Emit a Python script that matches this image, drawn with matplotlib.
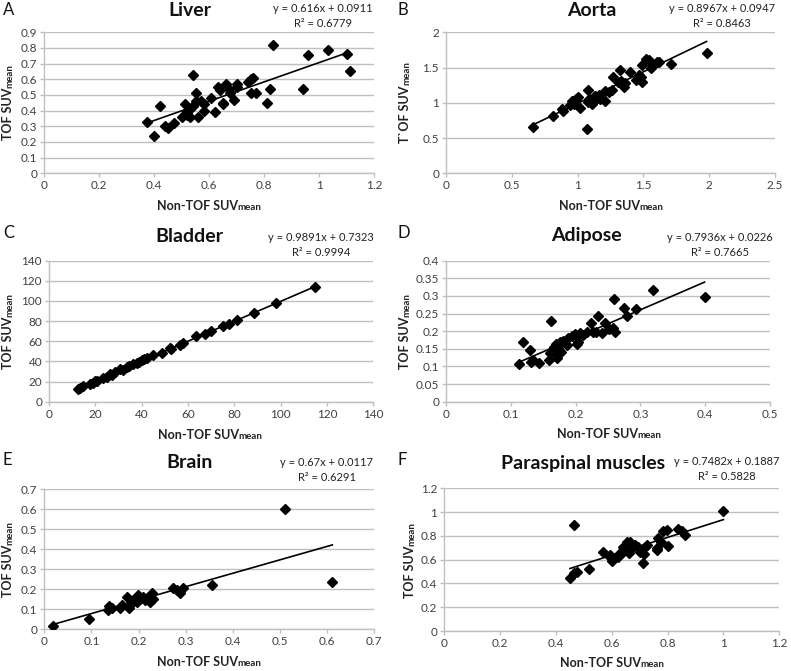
import numpy as np
import matplotlib
matplotlib.use("Agg")
import matplotlib.pyplot as plt

plt.rcParams['font.family'] = ['Lato', 'DejaVu Sans']

# ---------------- data ----------------
liver_x = [0.375, 0.40, 0.42, 0.44, 0.45, 0.47, 0.50, 0.51, 0.52, 0.52, 0.53, 0.54, 0.54, 0.55,
           0.55, 0.56, 0.57, 0.58, 0.58, 0.605, 0.62, 0.63, 0.64, 0.65, 0.66, 0.67, 0.675, 0.69,
           0.70, 0.70, 0.74, 0.75, 0.76, 0.75, 0.77, 0.81, 0.82, 0.83, 0.94, 0.96, 1.03, 1.10, 1.11,
           0.53, 0.52, 0.65]
liver_y = [0.33, 0.24, 0.43, 0.30, 0.29, 0.32, 0.36, 0.44, 0.40, 0.38, 0.36, 0.63, 0.43, 0.51,
           0.46, 0.36, 0.46, 0.44, 0.40, 0.48, 0.39, 0.55, 0.53, 0.45, 0.57, 0.54, 0.51, 0.47,
           0.57, 0.55, 0.585, 0.60, 0.61, 0.51, 0.51, 0.45, 0.535, 0.82, 0.54, 0.755, 0.79, 0.76, 0.655,
           0.41, 0.37, 0.44]

aorta_x = [0.66, 0.81, 0.88, 0.89, 0.94, 0.955, 0.98, 0.99, 1.02, 1.07, 1.08, 1.08, 1.09, 1.11,
           1.13, 1.14, 1.16, 1.17, 1.21, 1.21, 1.24, 1.26, 1.27, 1.31, 1.32, 1.33, 1.35, 1.36, 1.40,
           1.44, 1.48, 1.49, 1.49, 1.52, 1.54, 1.56, 1.57, 1.60, 1.62, 1.71, 1.98, 1.47, 1.10, 1.13,
           0.97, 1.00]
aorta_y = [0.65, 0.81, 0.91, 0.89, 0.97, 1.02, 1.04, 1.06, 0.92, 0.63, 1.18, 1.01, 1.06, 0.99,
           1.09, 1.05, 1.11, 1.06, 1.02, 1.17, 1.16, 1.18, 1.36, 1.29, 1.47, 1.31, 1.22, 1.28, 1.43,
           1.32, 1.37, 1.29, 1.54, 1.62, 1.61, 1.49, 1.53, 1.58, 1.58, 1.55, 1.71, 1.40, 1.04, 1.10,
           0.98, 1.08]

bladder_x = [12.4, 13.4, 14.5, 17.7, 19.0, 19.9, 20.6, 23.5, 24.9, 26.3, 27.0, 28.5, 30.6, 32.0,
             33.5, 34.7, 36.1, 37.8, 39.0, 40.0, 41.0, 42.4, 45.0, 48.6, 52.2, 52.7, 56.5, 57.7,
             63.3, 67.3, 69.8, 75.0, 77.8, 81.0, 88.5, 97.8, 114.8]
bladder_y = [13.0, 14.0, 16.0, 18.0, 19.0, 21.0, 21.0, 24.0, 25.0, 28.0, 27.0, 29.0, 32.0, 31.0,
             34.0, 35.0, 37.0, 38.0, 39.0, 41.0, 42.0, 43.0, 46.4, 48.7, 53.0, 52.0, 56.3, 58.0,
             64.9, 66.9, 70.2, 75.5, 76.8, 81.0, 87.7, 98.3, 114.0]

adipose_x = [0.113, 0.119, 0.130, 0.131, 0.134, 0.143, 0.159, 0.162, 0.160, 0.163, 0.166, 0.167,
             0.170, 0.171, 0.173, 0.176, 0.178, 0.181, 0.186, 0.189, 0.194, 0.199, 0.202, 0.204,
             0.207, 0.212, 0.217, 0.224, 0.227, 0.232, 0.235, 0.241, 0.245, 0.252, 0.258, 0.261,
             0.260, 0.274, 0.280, 0.293, 0.319, 0.399]
adipose_y = [0.107, 0.168, 0.148, 0.113, 0.118, 0.111, 0.118, 0.230, 0.137, 0.147, 0.156, 0.142,
             0.165, 0.123, 0.151, 0.170, 0.142, 0.172, 0.161, 0.180, 0.186, 0.191, 0.165, 0.168,
             0.194, 0.189, 0.199, 0.222, 0.199, 0.199, 0.243, 0.194, 0.224, 0.205, 0.208, 0.197,
             0.291, 0.267, 0.244, 0.263, 0.318, 0.298]

brain_x = [0.019, 0.095, 0.136, 0.137, 0.143, 0.161, 0.164, 0.175, 0.180, 0.185, 0.189, 0.196,
           0.198, 0.203, 0.209, 0.214, 0.217, 0.224, 0.228, 0.230, 0.274, 0.281, 0.288, 0.295,
           0.355, 0.511, 0.611]
brain_y = [0.017, 0.050, 0.097, 0.118, 0.105, 0.108, 0.121, 0.163, 0.105, 0.130, 0.146, 0.138,
           0.171, 0.151, 0.163, 0.146, 0.158, 0.138, 0.180, 0.151, 0.208, 0.196, 0.180, 0.208,
           0.221, 0.600, 0.238]

para_x = [0.450, 0.465, 0.476, 0.465, 0.52, 0.57, 0.593, 0.60, 0.605, 0.623, 0.629, 0.639, 0.641,
          0.647, 0.655, 0.663, 0.665, 0.671, 0.683, 0.695, 0.70, 0.71, 0.715, 0.727, 0.761, 0.763,
          0.767, 0.775, 0.784, 0.796, 0.802, 0.838, 0.85, 0.862, 1.0, 0.595, 0.66, 0.72]
para_y = [0.443, 0.49, 0.50, 0.89, 0.525, 0.665, 0.625, 0.59, 0.61, 0.625, 0.653, 0.709, 0.667,
          0.68, 0.745, 0.653, 0.75, 0.695, 0.723, 0.704, 0.667, 0.575, 0.648, 0.725, 0.695, 0.68,
          0.785, 0.75, 0.845, 0.85, 0.715, 0.855, 0.843, 0.81, 1.01, 0.64, 0.71, 0.71]

slopes = [0.616, 0.8967, 0.9891, 0.7936, 0.67, 0.7482]
intercepts = [0.0911, 0.0947, 0.7323, 0.0226, 0.0117, 0.1887]
eq_texts = ["y = 0.616x + 0.0911\nR² = 0.6779",
            "y = 0.8967x + 0.0947\nR² = 0.8463",
            "y = 0.9891x + 0.7323\nR² = 0.9994",
            "y = 0.7936x + 0.0226\nR² = 0.7665",
            "y = 0.67x + 0.0117\nR² = 0.6291",
            "y = 0.7482x + 0.1887\nR² = 0.5828"]
titles = ["Liver", "Aorta", "Bladder", "Adipose", "Brain", "Paraspinal muscles"]
letters = ["A", "B", "C", "D", "E", "F"]
ylabels = ["TOF SUV", "T`OF SUV", "TOF SUV", "TOF SUV", "TOF SUV", "TOF SUV"]
xlims = [(0, 1.2), (0, 2.5), (0, 140), (0, 0.5), (0, 0.7), (0, 1.2)]
ylims = [(0, 0.9), (0, 2), (0, 140), (0, 0.4), (0, 0.7), (0, 1.2)]
xticks = [np.arange(0, 1.21, 0.2), np.arange(0, 2.51, 0.5), np.arange(0, 141, 20),
          np.arange(0, 0.51, 0.1), np.arange(0, 0.71, 0.1), np.arange(0, 1.21, 0.2)]
yticks = [np.arange(0, 0.91, 0.1), np.arange(0, 2.01, 0.5), np.arange(0, 141, 20),
          np.arange(0, 0.401, 0.05), np.arange(0, 0.71, 0.1), np.arange(0, 1.21, 0.2)]

xs = [liver_x, aorta_x, bladder_x, adipose_x, brain_x, para_x]
ys = [liver_y, aorta_y, bladder_y, adipose_y, brain_y, para_y]

# ---------------- layout (pixels) ----------------
W, H = 791, 671
# left, right, top, bottom
boxes = [(44.3, 374.3, 32.3, 173.3), (446, 775, 32.3, 173.3),
         (49, 373.3, 260.7, 401.7), (446, 770, 260.7, 401.7),
         (44.3, 374.3, 489, 629.3), (444.3, 779.3, 488.3, 631)]
title_pos = [(190, 10), (592, 10), (189, 236), (586, 236), (190, 463), (583, 463)]
letter_pos = [(3, 10), (398, 10), (3, 233), (398, 233), (3, 460), (398, 460)]
eq_pos = [(323, 16), (722, 16), (321, 245), (720, 245), (327, 470), (727, 469)]
xlab_pos = [(209, 210), (611, 210), (210, 439), (609, 438), (209, 666), (612, 667)]
ylab_pos = [(12, 102), (409, 102), (12, 331), (409, 331), (12, 559), (414, 560)]

fig = plt.figure(figsize=(W / 100, H / 100), dpi=100)
renderer = fig.canvas.get_renderer()
grey = '#bfbfbf'
tickc = '#404040'


def fx(p):
    return p / W


def fy(p):
    return 1 - p / H


def two_part(xc, yc, big, small, rotation=0):
    t1 = fig.text(0, 0, big, fontsize=9, fontweight='bold', color='#222222',
                  rotation=rotation, rotation_mode='anchor', ha='left', va='baseline')
    t2 = fig.text(0, 0, small, fontsize=7, fontweight='bold', color='#222222',
                  rotation=rotation, rotation_mode='anchor', ha='left', va='baseline')
    e1 = t1.get_window_extent(renderer)
    e2 = t2.get_window_extent(renderer)
    if rotation == 0:
        total = e1.width + e2.width
        start = xc - total / 2
        t1.set_position((fx(start), fy(yc)))
        t2.set_position((fx(start + e1.width), fy(yc)))
    else:
        total = e1.height + e2.height
        start = yc + total / 2
        t1.set_position((fx(xc), fy(start)))
        t2.set_position((fx(xc), fy(start - e1.height)))


for i in range(6):
    l, r, t, b = boxes[i]
    ax = fig.add_axes([fx(l), fy(b), (r - l) / W, (b - t) / H])
    ax.set_xlim(*xlims[i])
    ax.set_ylim(*ylims[i])
    ax.set_xticks(xticks[i])
    ax.set_yticks(yticks[i])
    fmt = lambda v: ('%g' % round(v, 3))
    ax.set_xticklabels([fmt(v) for v in xticks[i]])
    ax.set_yticklabels([fmt(v) for v in yticks[i]])
    ax.yaxis.grid(True, color=grey, linewidth=1.0)
    ax.set_axisbelow(True)
    for s in ['top', 'right']:
        ax.spines[s].set_visible(False)
    for s in ['left', 'bottom']:
        ax.spines[s].set_color(grey)
        ax.spines[s].set_linewidth(1.0)
    ax.tick_params(axis='both', labelsize=8.5, colors=grey, labelcolor=tickc,
                   length=3, width=1, pad=2)
    x = np.array(xs[i])
    y = np.array(ys[i])
    ax.plot(x, y, linestyle='none', marker='D', markersize=5.4, color='black', zorder=3)
    lx = np.array([x.min(), x.max()])
    ax.plot(lx, slopes[i] * lx + intercepts[i], color='black', linewidth=1.2, zorder=4)

    fig.text(fx(title_pos[i][0]), fy(title_pos[i][1]), titles[i], fontsize=14,
             fontweight='bold', ha='center', va='center', color='#111111')
    fig.text(fx(letter_pos[i][0]), fy(letter_pos[i][1]), letters[i], fontsize=12,
             ha='left', va='center', color='#111111')
    fig.text(fx(eq_pos[i][0]), fy(eq_pos[i][1]), eq_texts[i], fontsize=8,
             ha='center', va='center', multialignment='center', color='#222222',
             linespacing=1.35)
    two_part(xlab_pos[i][0], xlab_pos[i][1], "Non-TOF SUV", "mean")
    two_part(ylab_pos[i][0], ylab_pos[i][1], ylabels[i], "mean", rotation=90)

fig.savefig("out.png", dpi=100)
